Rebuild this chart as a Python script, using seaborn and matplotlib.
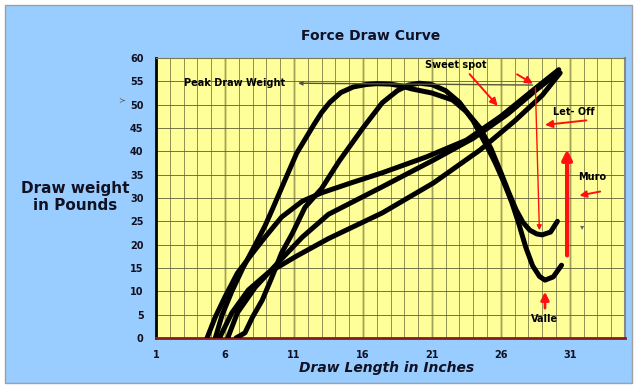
import matplotlib
matplotlib.use("Agg")
import matplotlib.pyplot as plt
import matplotlib.patches as mpatches
import seaborn as sns
import pandas as pd

# ---- data ----
bell1_x = [5.3, 5.8, 6.5, 7.3, 8.2, 8.9, 9.5, 10.3, 11.2, 12.4, 13.0, 13.6, 14.4, 15.3, 16.2, 17.0, 18.0, 18.8, 19.5, 21.0, 22.5, 23.5, 24.5, 25.3, 26.0, 26.6, 27.1, 27.6, 28.1, 28.6, 29.0, 29.6, 30.1]
bell1_y = [0, 5, 10, 15, 20, 24, 28, 33.5, 39.6, 45.5, 48.3, 50.5, 52.6, 53.8, 54.3, 54.5, 54.4, 54.0, 53.4, 52.5, 51, 48.5, 45, 40.5, 35.5, 31, 27.5, 24.8, 23.1, 22.3, 22.1, 22.7, 25]

bell2_x = [6.8, 7.45, 8.0, 8.7, 9.4, 10.1, 10.9, 11.8, 13.0, 14.3, 16.0, 17.4, 18.5, 19.3, 20.1, 21.0, 22.0, 23.0, 24.0, 25.0, 25.6, 26.2, 26.8, 27.3, 27.8, 28.3, 28.8, 29.2, 29.8, 30.4]
bell2_y = [0, 1.1, 4.5, 8.1, 13, 18.2, 22.5, 28, 32, 38, 45, 50.4, 53, 54.2, 54.6, 54.3, 53, 50.5, 46.5, 41, 37.5, 33.5, 29, 24.5, 19.5, 15.5, 13.2, 12.4, 13.1, 15.6]

diag1_x = [4.7, 5.3, 6.0, 6.9, 8.0, 8.9, 10.1, 11.6, 13.0, 15.1, 17.4, 20.6, 23.5, 26.0, 28.5, 30.2]
diag1_y = [0, 4.5, 8.8, 13.9, 18.2, 21.6, 25.9, 29.3, 31.1, 33.2, 35.4, 38.8, 42.4, 47.5, 53.5, 57.5]

diag2_x = [6.2, 6.9, 8.2, 9.8, 11.6, 13.5, 17.4, 21.1, 24.0, 26.5, 28.5, 30.0]
diag2_y = [0, 5.4, 10.9, 16, 21.6, 26.5, 32.4, 38.1, 42.8, 48, 53, 56.5]

diag3_x = [5.6, 6.5, 7.7, 9.1, 11.1, 13.5, 17.4, 21.1, 24.5, 27.0, 29.0, 30.3]
diag3_y = [0, 5.4, 10.3, 13.9, 17.4, 21.3, 26.8, 33.2, 40.3, 46.5, 52, 56.8]

x_ticks = [1, 6, 11, 16, 21, 26, 31]
y_ticks = [0, 5, 10, 15, 20, 25, 30, 35, 40, 45, 50, 55, 60]

title = "Force Draw Curve"
x_label = "Draw Length in Inches"
y_label = "Draw weight\nin Pounds"

series = {
    "bell1": (bell1_x, bell1_y),
    "bell2": (bell2_x, bell2_y),
    "diag1": (diag1_x, diag1_y),
    "diag2": (diag2_x, diag2_y),
    "diag3": (diag3_x, diag3_y),
}
frames = []
for name, (xs, ys) in series.items():
    frames.append(pd.DataFrame({"x": xs, "y": ys, "curve": name, "order": range(len(xs))}))
df = pd.concat(frames, ignore_index=True)

# ---- figure ----
sns.set_style("white")
plt.rcParams['font.family'] = ['DejaVu Sans']
fig = plt.figure(figsize=(6.41, 3.90), dpi=100)
fig.patch.set_facecolor("white")
bg = mpatches.Rectangle((5/641, 7/390), 627/641, 378/390, transform=fig.transFigure,
                        facecolor="#99ccff", edgecolor="#a0a0a0", lw=1.0, zorder=-10)
fig.patches.append(bg)

ax = fig.add_axes([156/641, 52/390, 469/641, 280/390])
ax.set_facecolor("#ffff99")

for name in series:
    d = df[df.curve == name]
    sns.lineplot(data=d, x="x", y="y", sort=False, estimator=None, ax=ax,
                 color="black", lw=3.6, solid_capstyle="round", solid_joinstyle="round", zorder=5)

ax.set_xlim(1, 35)
ax.set_ylim(0, 60)

# grid
for xv in range(2, 35):
    if (xv - 1) % 5 == 0:
        ax.axvline(xv, color="#d6d67a", lw=2.0, zorder=1)
        ax.axvline(xv, color="#8a8a50", lw=0.5, zorder=1)
    else:
        ax.axvline(xv, color="#7d7d48", lw=0.6, zorder=1)
for yv in y_ticks[1:-1]:
    ax.axhline(yv, color="#5f5f38", lw=0.6, zorder=1)

ax.set_xticks(x_ticks)
ax.set_xticks(range(1, 36), minor=True)
ax.set_yticks(y_ticks)
ax.tick_params(axis="both", which="major", labelsize=7, length=3, width=0.8, colors="#222222", pad=6)
ax.tick_params(axis="x", which="minor", length=3, width=0.6, color="#666666")
for lab in ax.get_xticklabels() + ax.get_yticklabels():
    lab.set_fontweight("bold")
    lab.set_color("#111122")

ax.spines["left"].set_color("black")
ax.spines["left"].set_linewidth(2.0)
ax.spines["bottom"].set_color("#8b1a1a")
ax.spines["bottom"].set_linewidth(2.0)
ax.spines["top"].set_color("#7a7a4a")
ax.spines["top"].set_linewidth(0.8)
ax.spines["right"].set_color("#888888")
ax.spines["right"].set_linewidth(1.5)
ax.set_xlabel("")
ax.set_ylabel("")

fig.text(371/641, 1 - 36/390, title, ha="center", va="center", fontsize=10, fontweight="bold", color="#111122")
fig.text(387/641, 1 - 368/390, x_label, ha="center", va="center", fontsize=10, fontweight="bold",
         style="italic", color="#111122")
fig.text(75/641, 1 - 197/390, y_label, ha="center", va="center", fontsize=11, fontweight="bold",
         color="#111122", linespacing=1.2)

# annotations
ax.annotate("", xy=(11.1, 54.6), xytext=(28.5, 54.2),
            arrowprops=dict(arrowstyle="-|>", color="#555540", lw=1.0, mutation_scale=6), zorder=6)
ax.text(3.0, 54.6, "Peak Draw Weight", fontsize=7, fontweight="heavy", va="center", ha="left", color="black", zorder=7)

ax.text(22.7, 58.4, "Sweet spot", fontsize=7, fontweight="heavy", va="center", ha="center", color="black", zorder=7)
red = "#ff1010"
ax.annotate("", xy=(25.9, 49.3), xytext=(23.6, 57.0),
            arrowprops=dict(arrowstyle="-|>", color=red, lw=1.4, mutation_scale=11), zorder=7)
ax.annotate("", xy=(28.5, 54.2), xytext=(27.0, 56.8),
            arrowprops=dict(arrowstyle="-|>", color=red, lw=1.4, mutation_scale=11), zorder=7)
ax.annotate("", xy=(28.8, 22.5), xytext=(28.5, 54.2),
            arrowprops=dict(arrowstyle="-|>", color=red, lw=1.0, mutation_scale=7), zorder=7)

ax.text(31.3, 48.4, "Let- Off", fontsize=7, fontweight="heavy", va="center", ha="center", color="black", zorder=7)
ax.annotate("", xy=(29.0, 45.6), xytext=(32.4, 46.7),
            arrowprops=dict(arrowstyle="-|>", color=red, lw=1.4, mutation_scale=11), zorder=7)

ax.annotate("", xy=(30.8, 41.0), xytext=(30.8, 17.1),
            arrowprops=dict(arrowstyle="-|>", color=red, lw=3.0, mutation_scale=14), zorder=7)
ax.text(32.6, 34.5, "Muro", fontsize=7, fontweight="heavy", va="center", ha="center", color="black", zorder=7)
ax.annotate("", xy=(31.5, 30.4), xytext=(33.4, 31.5),
            arrowprops=dict(arrowstyle="-|>", color=red, lw=1.4, mutation_scale=10), zorder=7)

ax.text(29.2, 4.0, "Valle", fontsize=7, fontweight="heavy", va="center", ha="center", color="black", zorder=7)
ax.annotate("", xy=(29.2, 10.5), xytext=(29.2, 5.8),
            arrowprops=dict(arrowstyle="-|>", color=red, lw=2.0, mutation_scale=12), zorder=7)

ax.text(31.9, 23.8, "\u25be", fontsize=6, color="#666666", ha="center", va="center", zorder=7)
fig.text(122/641, 1 - 100/390, "\u227b", fontsize=6, color="#555555", ha="center", va="center")

fig.savefig("out.png", dpi=100, facecolor=fig.get_facecolor())
